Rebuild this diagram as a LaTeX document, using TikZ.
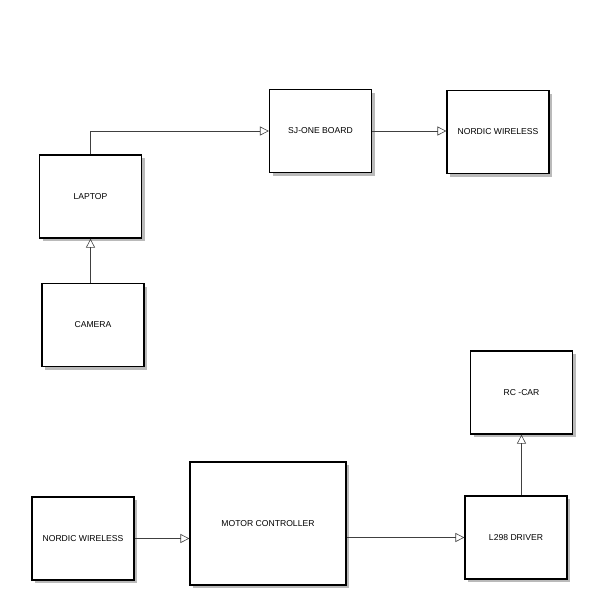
\documentclass[tikz,border=0pt]{standalone}
\usepackage{fontspec}
\setmainfont{Liberation Sans}
\usetikzlibrary{arrows.meta,shadows}

\begin{document}
\begin{tikzpicture}[
  x=1pt, y=-1pt,
  every node/.style={font=\fontsize{8.6}{10}\selectfont},
  block/.style={draw=black, line width=1.2pt, fill=white, inner sep=2pt,
                minimum width=102pt, minimum height=83pt,
                drop shadow={shadow xshift=3pt, shadow yshift=-3pt, fill=black!45, opacity=0.6}},
  arr/.style={-{Triangle[open, length=9pt, width=9pt]}, draw=black!75, line width=0.6pt}
]
  \useasboundingbox (0,0) rectangle (591,600);

  % top row
  \node[block] (laptop) at (90.5, 196.5) {LAPTOP};
  \node[block] (camera) at (93, 325) {CAMERA};
  \node[block] (sjone)  at (320.5, 131) {SJ-ONE BOARD};
  \node[block] (nordicA) at (498, 132) {NORDIC WIRELESS};

  % bottom row
  \node[block] (nordicB) at (83, 538.5) {NORDIC WIRELESS};
  \node[block, minimum width=156pt, minimum height=123pt] (motor) at (268, 523.5) {MOTOR CONTROLLER};
  \node[block] (driver) at (516, 537.5) {L298 DRIVER};
  \node[block] (rccar)  at (521.5, 392.5) {RC -CAR};

  % connectors
  \draw[arr] (laptop.north) |- (sjone.west);
  \draw[arr] (sjone.east) -- (sjone.east -| nordicA.west);
  \draw[arr] (camera.north -| laptop.south) -- (laptop.south);
  \draw[arr] (nordicB.east) -- (nordicB.east -| motor.west);
  \draw[arr] (motor.east |- driver.west) -- (driver.west);
  \draw[arr] (driver.north -| rccar.south) -- (rccar.south);
\end{tikzpicture}
\end{document}
